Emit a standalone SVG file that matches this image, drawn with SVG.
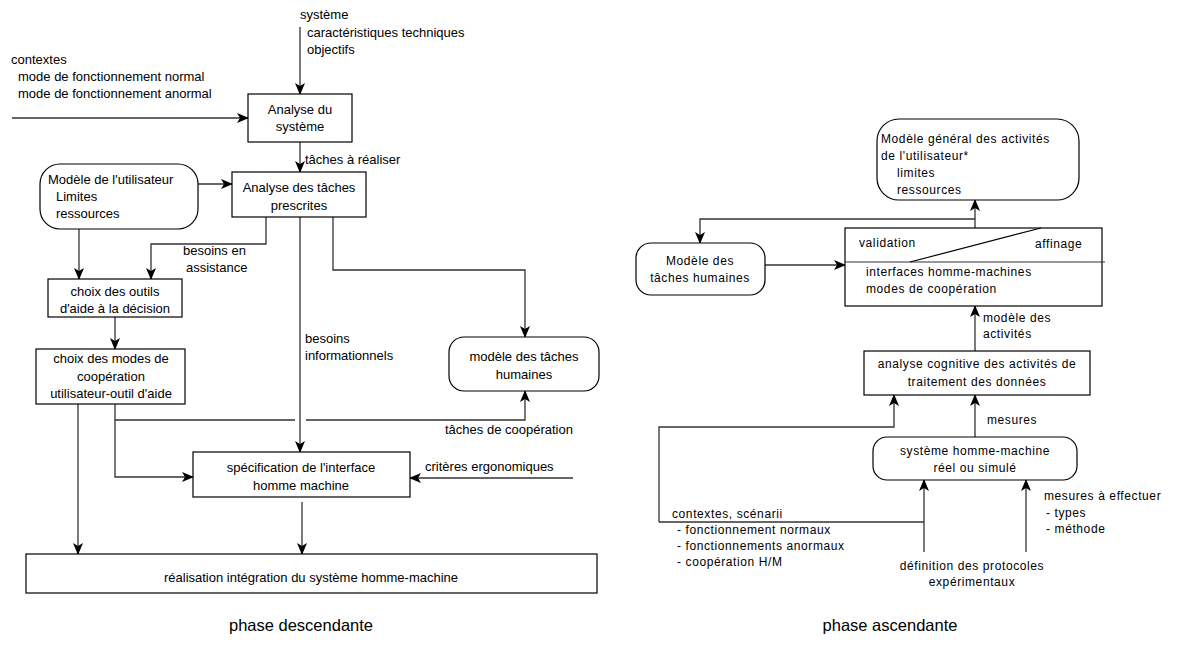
<svg xmlns="http://www.w3.org/2000/svg" width="1180" height="648" viewBox="0 0 1180 648">
<defs>
<marker id="ah" viewBox="0 0 12 10" markerWidth="12" markerHeight="10" refX="11" refY="5" orient="auto" markerUnits="userSpaceOnUse">
<path d="M0,0 L12,5 L0,10 L3,5 z" fill="#000"/>
</marker>
<style>
text{font-family:"Liberation Sans",Arial,sans-serif;fill:#000}
.l{font-size:13px}
.r{font-size:12px;letter-spacing:0.6px}
.c{text-anchor:middle}
.big{font-size:16.5px;text-anchor:middle}
.box{fill:#fff;stroke:#000;stroke-width:1.2}
.cn{fill:none;stroke:#333;stroke-width:1.3}
.ar{marker-end:url(#ah)}
</style>
</defs>
<rect width="1180" height="648" fill="#fff"/>

<g id="connectors">
<path class="cn ar" d="M300,27 V94"/>
<path class="cn ar" d="M12,118 H248"/>
<path class="cn ar" d="M300,142 V172"/>
<path class="cn ar" d="M198,184 H232"/>
<path class="cn ar" d="M79,229 V279"/>
<path class="cn ar" d="M266,217 V244 H151 V279"/>
<path class="cn ar" d="M115,317 V349"/>
<path class="cn ar" d="M300,217 V452"/>
<path class="cn ar" d="M333,217 V270 H525 V337"/>
<path class="cn" d="M115,404 V420 H295"/>
<path class="cn ar" d="M306,420 H525 V391"/>
<path class="cn ar" d="M115,420 V477 H193"/>
<path class="cn ar" d="M78,404 V554"/>
<path class="cn ar" d="M573,478 H410"/>
<path class="cn ar" d="M302,502 V554"/>

<path class="cn ar" d="M975,228 V200"/>
<path class="cn ar" d="M975,219 H700 V243"/>
<path class="cn ar" d="M765,265 H845"/>
<path class="cn ar" d="M975,351 V306"/>
<path class="cn ar" d="M975,437 V395"/>
<path class="cn ar" d="M659,522 V427 H894 V395"/>
<path class="cn" d="M659,522 H924"/>
<path class="cn ar" d="M924,552 V480"/>
<path class="cn ar" d="M1026,552 V480"/>
</g>

<g id="lbl-systeme">
<text class="l" x="300" y="19">système</text>
<text class="l" x="307" y="37">caractéristiques techniques</text>
<text class="l" x="307" y="54">objectifs</text>
</g>
<g id="lbl-contextes">
<text class="l" x="11" y="64">contextes</text>
<text class="l" x="18" y="81">mode de fonctionnement normal</text>
<text class="l" x="18" y="98">mode de fonctionnement anormal</text>
</g>

<g id="analyse-systeme">
<rect class="box" x="248" y="94" width="104" height="48"/>
<text class="l c" x="300" y="114">Analyse du</text>
<text class="l c" x="300" y="131">système</text>
</g>
<text class="l" x="305" y="164">tâches à réaliser</text>

<g id="analyse-taches">
<rect class="box" x="232" y="172" width="134" height="45"/>
<text class="l c" x="299" y="192">Analyse des tâches</text>
<text class="l c" x="299" y="210">prescrites</text>
</g>

<g id="modele-utilisateur">
<rect class="box" x="40" y="164" width="158" height="65" rx="20"/>
<text class="l" x="48" y="184">Modèle de l'utilisateur</text>
<text class="l" x="56" y="201">Limites</text>
<text class="l" x="56" y="218">ressources</text>
</g>

<text class="l" x="183" y="255">besoins en</text>
<text class="l" x="186" y="272">assistance</text>

<g id="choix-outils">
<rect class="box" x="48" y="279" width="134" height="38"/>
<text class="l c" x="115" y="296">choix des outils</text>
<text class="l c" x="115" y="313">d'aide à la décision</text>
</g>

<g id="choix-modes">
<rect class="box" x="36" y="349" width="149" height="55"/>
<text class="l c" x="111" y="363">choix des modes de</text>
<text class="l c" x="111" y="381">coopération</text>
<text class="l c" x="111" y="398">utilisateur-outil d'aide</text>
</g>

<text class="l" x="305" y="343">besoins</text>
<text class="l" x="305" y="360">informationnels</text>

<g id="modele-taches">
<rect class="box" x="449" y="337" width="150" height="54" rx="15"/>
<text class="l c" x="524" y="361">modèle des tâches</text>
<text class="l c" x="524" y="379">humaines</text>
</g>

<text class="l" x="445" y="434">tâches de coopération</text>
<text class="l" x="425" y="471">critères ergonomiques</text>

<g id="specification">
<rect class="box" x="193" y="452" width="217" height="45"/>
<text class="l c" x="301" y="472">spécification de l'interface</text>
<text class="l c" x="301" y="490">homme machine</text>
</g>

<g id="realisation">
<rect class="box" x="26" y="554" width="571" height="39"/>
<text class="l c" x="311" y="582">réalisation intégration du système homme-machine</text>
</g>

<text class="big" x="301" y="631">phase descendante</text>
<text class="big" x="890" y="631">phase ascendante</text>

<g id="modele-general">
<rect class="box" x="877" y="119" width="202" height="81" rx="22"/>
<text class="r" x="881" y="143">Modèle général des activités</text>
<text class="r" x="881" y="160">de l'utilisateur*</text>
<text class="r" x="897" y="177">limites</text>
<text class="r" x="897" y="194">ressources</text>
</g>

<g id="modele-taches-humaines">
<rect class="box" x="636" y="243" width="129" height="52" rx="15"/>
<text class="r c" x="700" y="265">Modèle des</text>
<text class="r c" x="700" y="282">tâches humaines</text>
</g>

<g id="validation-box">
<rect class="box" x="845" y="228" width="257" height="78"/>
<line x1="845" y1="262" x2="1105" y2="262" stroke="#333" stroke-width="1.2"/>
<line x1="910" y1="262" x2="1041" y2="228" stroke="#000" stroke-width="1.2"/>
<text class="r" x="859" y="247">validation</text>
<text class="r" x="1035" y="248">affinage</text>
<text class="r" x="866" y="276">interfaces homme-machines</text>
<text class="r" x="866" y="293">modes de coopération</text>
</g>

<text class="r" x="983" y="322">modèle des</text>
<text class="r" x="983" y="338">activités</text>

<g id="analyse-cognitive">
<rect class="box" x="864" y="351" width="226" height="44"/>
<text class="r c" x="977" y="368">analyse cognitive des activités de</text>
<text class="r c" x="977" y="386">traitement des données</text>
</g>

<text class="r" x="987" y="424">mesures</text>

<g id="systeme-hm">
<rect class="box" x="873" y="437" width="204" height="43" rx="14"/>
<text class="r c" x="975" y="455">système homme-machine</text>
<text class="r c" x="975" y="472">réel ou simulé</text>
</g>

<g id="lbl-mesures-effectuer">
<text class="r" x="1044" y="500">mesures à effectuer</text>
<text class="r" x="1046" y="517">- types</text>
<text class="r" x="1046" y="533">- méthode</text>
</g>

<g id="lbl-scenarii">
<text class="r" x="672" y="518">contextes, scénarii</text>
<text class="r" x="677" y="534">- fonctionnement normaux</text>
<text class="r" x="677" y="550">- fonctionnements anormaux</text>
<text class="r" x="677" y="566">- coopération H/M</text>
</g>

<g id="lbl-protocoles">
<text class="r c" x="972" y="570">définition des protocoles</text>
<text class="r c" x="972" y="586">expérimentaux</text>
</g>
</svg>
